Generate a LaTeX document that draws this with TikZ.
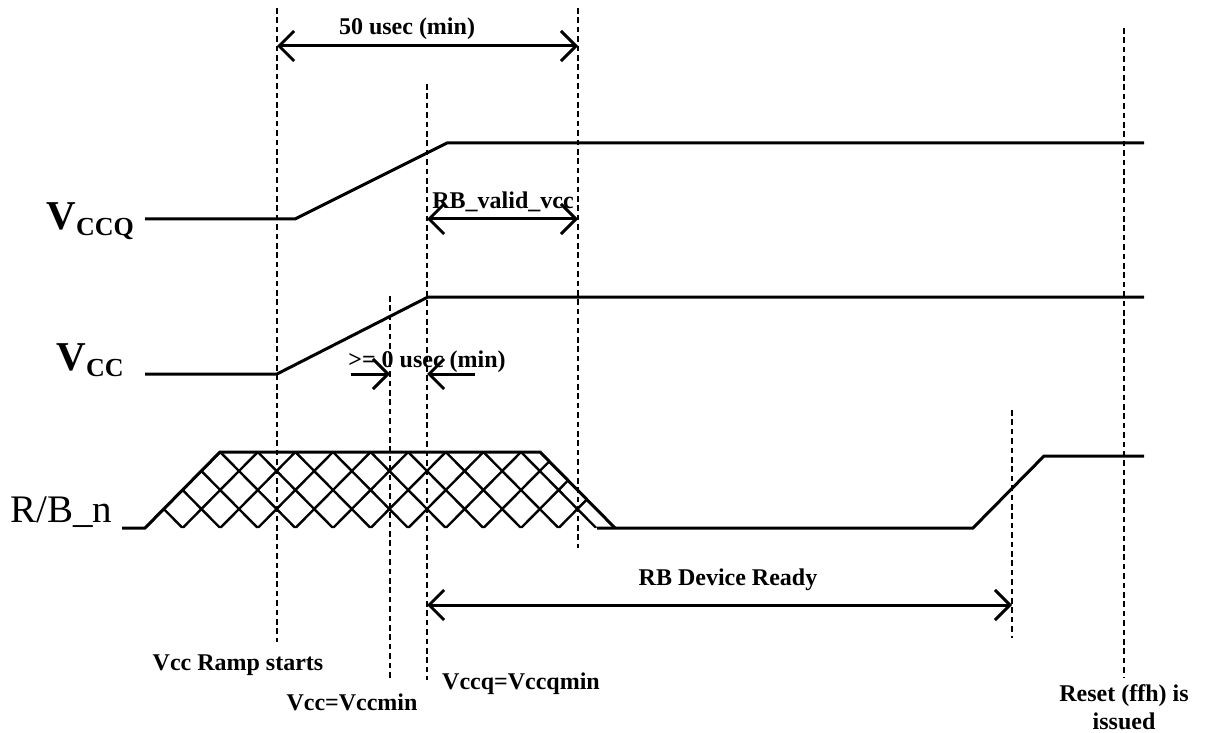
\documentclass[tikz,border=0pt]{standalone}
\usepackage{fontspec}
\setmainfont{Liberation Serif}
\usetikzlibrary{arrows.meta, positioning}

\tikzset{
  sig/.style={line width=1.5pt},
  hatch/.style={line width=1.2pt},
  guide/.style={line width=1.3pt, dash pattern=on 2.8pt off 1.9pt},
  dim/.style={line width=1.5pt, {Straight Barb[length=7.5pt,width=15pt]}-{Straight Barb[length=7.5pt,width=15pt]}},
  onedim/.style={line width=1.5pt, -{Straight Barb[length=7.5pt,width=15pt]}},
  lbl/.style={font=\fontsize{12}{14}\selectfont\bfseries, inner sep=0pt, anchor=base},
}

\begin{document}
\begin{tikzpicture}[x=0.5pt, y=-0.5pt]
		\useasboundingbox (0,0) rectangle (1206,733);

		% Draw the dashed guide lines
		\foreach \name/\x/\top/\bot in {ramp/277/8/642, fifty/578/8/548, vccq/427/84/680,
		    vcc/390/296/680, ready/1012/410/638, reset/1124/28/678} {
			\coordinate (\name-t) at (\x,\top);
			\coordinate (\name-b) at (\x,\bot);
			\draw[guide] (\name-t) -- (\name-b);
		}

		% Signal names
		\node[anchor=base west, inner sep=0pt] (vccqname) at (46,229)
			{\fontsize{20.5}{24}\selectfont\bfseries V\raisebox{-3pt}{\fontsize{13}{15}\selectfont CCQ}};
		\node[anchor=base west, inner sep=0pt] (vccname) at (56,370)
			{\fontsize{20.5}{24}\selectfont\bfseries V\raisebox{-3pt}{\fontsize{13}{15}\selectfont CC}};
		\node[anchor=base west, inner sep=0pt, font=\fontsize{19.5}{22}\selectfont] (rbname) at (10,522) {R/B\_n};

		% Draw the waveforms
		\draw[sig] (145,219) -- (295,219) -- (447,143) -- (1144,143);
		\draw[sig] (145,374) -- (277,374) -- (428,297) -- (1144,297);
		\draw[sig] (122,528) -- (145,528) -- (220,452) -- (540,452) -- (615,528);
		\draw[sig] (597,528) -- (973,528) -- (1044,456) -- (1144,456);

		% Cross hatch for the undefined R/B_n state
		\begin{scope}
			\clip (145,528) -- (220,452) -- (540,452) -- (615,528) -- cycle;
			\foreach \k in {0,...,11} {
				\draw[hatch] (145+\k*37.6,528) -- (220.2+\k*37.6,452);
			}
			\foreach \k in {-2,...,11} {
				\draw[hatch] (145+\k*37.6,452) -- (220.2+\k*37.6,528);
			}
		\end{scope}

		% Timing arrows
		\coordinate (fifty-l) at (ramp-t |- 0,46);
		\coordinate (fifty-r) at (fifty-t |- 0,46);
		\draw[dim] (fifty-l) -- (fifty-r);
		\node[lbl] (fiftylbl) at (407,35) {50 usec (min)};

		\coordinate (valid-l) at (vccq-t |- 0,219);
		\coordinate (valid-r) at (fifty-t |- 0,219);
		\draw[dim] (valid-l) -- (valid-r);
		\node[lbl] (validlbl) at (503,209) {RB\_valid\_vcc};

		\coordinate (gap-l) at (351,374);
		\coordinate (gap-r) at (475,374);
		\draw[onedim] (gap-l) -- (vcc-t |- gap-l);
		\draw[onedim] (gap-r) -- (vccq-t |- gap-r);
		\node[lbl] (gaplbl) at (427,367) {>= 0 usec (min)};

		\coordinate (ready-l) at (vccq-t |- 0,605);
		\coordinate (ready-r) at (ready-t |- 0,605);
		\draw[dim] (ready-l) -- (ready-r);
		\node[lbl] (readylbl) at (728,585) {RB Device Ready};

		% Event labels
		\node[lbl] (ramplbl) at (238,670) {Vcc Ramp starts};
		\node[lbl] (vcclbl) at (352,710) {Vcc=Vccmin};
		\node[lbl] (vccqlbl) at (521,689) {Vccq=Vccqmin};
		\node[lbl] (resetlbl) at (1124,701) {Reset (ffh) is};
		\node[lbl] (issuedlbl) at (1124,729) {issued};

	\end{tikzpicture}
\end{document}
